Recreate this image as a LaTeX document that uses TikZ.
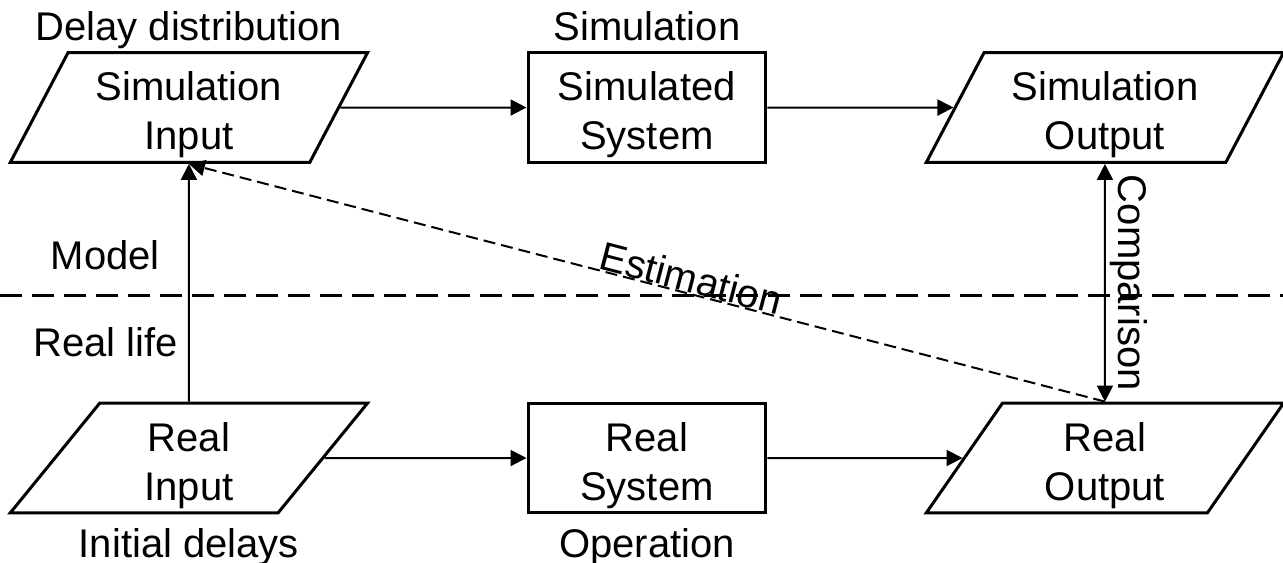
\documentclass[tikz,border=0pt]{standalone}
\usepackage{fontspec}
\setmainfont{Liberation Sans}
\usetikzlibrary{arrows.meta,shapes.geometric,positioning}

\begin{document}
\begin{tikzpicture}[>={Triangle[length=8pt,width=8pt]}]
\tikzstyle{every node}=[font=\fontsize{20}{24.5}\selectfont]
\tikzstyle{iobox}=[trapezium,trapezium left angle=62,trapezium right angle=118,trapezium stretches=true,draw,line width=1.5pt,minimum width=6.29cm,minimum height=1.93cm,inner sep=0pt,align=center,text height=42pt,text depth=0pt]
\tikzstyle{sysbox}=[rectangle,draw,line width=1.5pt,minimum width=4.18cm,minimum height=1.93cm,inner sep=0pt,align=center,text height=42pt,text depth=0pt]
\tikzstyle{lbl}=[inner sep=0pt]
\tikzstyle{arrow}=[draw,line width=1pt,->]
\tikzstyle{estim}=[arrow,dash pattern=on 6pt off 3pt]
\tikzstyle{divider}=[draw,line width=1.5pt,dash pattern=on 11pt off 5pt]
\useasboundingbox (0,0) rectangle (22.55,9.89);
\foreach \pos/\name/\txt in {{(3.32,8)/si/Simulation\\Input},{(19.42,8)/so/Simulation\\Output},{(3.32,1.84)/ri/Real\\Input},{(19.42,1.84)/ro/Real\\Output}}
  \node[iobox] (\name) at \pos {\txt};
\foreach \pos/\name/\txt in {{(11.37,8)/ss/Simulated\\System},{(11.37,1.84)/rs/Real\\System}}
  \node[sysbox] (\name) at \pos {\txt};
\node[lbl,above=0.19cm of si.north,anchor=base] (dd) {Delay distribution};
\node[lbl,above=0.19cm of ss.north,anchor=base] (sim) {Simulation};
\node[lbl,below=0.75cm of ri.south,anchor=base] (id) {Initial delays};
\node[lbl,below=0.75cm of rs.south,anchor=base] (op) {Operation};
\node[lbl,anchor=base] (model) at (1.85,5.15) {Model};
\node[lbl,anchor=base] (life) at (1.86,3.62) {Real life};
\path[divider] (0,4.69) -- (22.55,4.69);
\path[arrow] (si) -- (ss);
\path[arrow] (ss) -- (so);
\path[arrow] (ri) -- (rs);
\path[arrow] (rs) -- (ro);
\path[arrow] (ri) -- (si);
\path[arrow,<->] (so.south) -- (ro.north) node[midway,xshift=7pt,rotate=-90,anchor=base] {Comparison};
\path[estim] (ro.north) -- (si.south) node[pos=0.456,sloped,above,inner sep=0pt] {Estimation};
\end{tikzpicture}
\end{document}
